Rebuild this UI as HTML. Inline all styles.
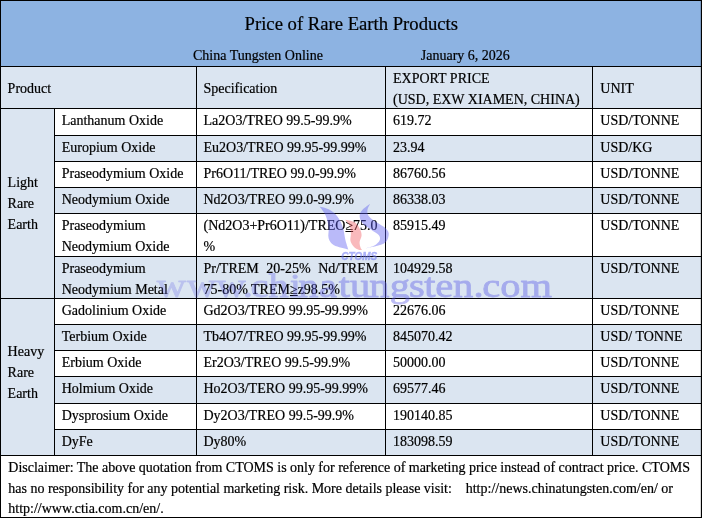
<!DOCTYPE html>
<html><head><meta charset="utf-8"><title>Price of Rare Earth Products</title>
<style>
html,body{margin:0;padding:0;background:#fff}
#c{position:relative;width:702px;height:518px;overflow:hidden;font-family:"Liberation Serif","Times New Roman",serif;color:#000;font-size:14px;line-height:20px}
.r{position:absolute}
.t{position:absolute;white-space:pre;-webkit-text-stroke:0.2px #000}
</style></head><body><div id="c">
<div class="r" style="left:0px;top:0px;width:702px;height:67px;background:#8db3e2"></div>
<div class="r" style="left:0px;top:67px;width:702px;height:41px;background:#dbe5f1"></div>
<div class="r" style="left:0px;top:108px;width:55px;height:347px;background:#dbe5f1"></div>
<div class="r" style="left:55px;top:108px;width:647px;height:27px;background:#ffffff"></div>
<div class="r" style="left:55px;top:135px;width:647px;height:26px;background:#dbe5f1"></div>
<div class="r" style="left:55px;top:161px;width:647px;height:26px;background:#ffffff"></div>
<div class="r" style="left:55px;top:187px;width:647px;height:26px;background:#dbe5f1"></div>
<div class="r" style="left:55px;top:213px;width:647px;height:43px;background:#ffffff"></div>
<div class="r" style="left:55px;top:256px;width:647px;height:42px;background:#dbe5f1"></div>
<div class="r" style="left:55px;top:298px;width:647px;height:26px;background:#ffffff"></div>
<div class="r" style="left:55px;top:324px;width:647px;height:26px;background:#dbe5f1"></div>
<div class="r" style="left:55px;top:350px;width:647px;height:26px;background:#ffffff"></div>
<div class="r" style="left:55px;top:376px;width:647px;height:27px;background:#dbe5f1"></div>
<div class="r" style="left:55px;top:403px;width:647px;height:26px;background:#ffffff"></div>
<div class="r" style="left:55px;top:429px;width:647px;height:26px;background:#dbe5f1"></div>
<div class="r" style="left:0px;top:455px;width:702px;height:63px;background:#ffffff"></div>
<div class="r" style="left:0px;top:0px;width:702px;height:1px;background:#000000"></div>
<div class="r" style="left:0px;top:66px;width:702px;height:1px;background:#000000"></div>
<div class="r" style="left:0px;top:108px;width:702px;height:1px;background:#000000"></div>
<div class="r" style="left:54px;top:135px;width:648px;height:1px;background:#000000"></div>
<div class="r" style="left:54px;top:161px;width:648px;height:1px;background:#000000"></div>
<div class="r" style="left:54px;top:187px;width:648px;height:1px;background:#000000"></div>
<div class="r" style="left:54px;top:213px;width:648px;height:1px;background:#000000"></div>
<div class="r" style="left:54px;top:256px;width:648px;height:1px;background:#000000"></div>
<div class="r" style="left:0px;top:298px;width:702px;height:1px;background:#000000"></div>
<div class="r" style="left:54px;top:324px;width:648px;height:1px;background:#000000"></div>
<div class="r" style="left:54px;top:350px;width:648px;height:1px;background:#000000"></div>
<div class="r" style="left:54px;top:376px;width:648px;height:1px;background:#000000"></div>
<div class="r" style="left:54px;top:403px;width:648px;height:1px;background:#000000"></div>
<div class="r" style="left:54px;top:429px;width:648px;height:1px;background:#000000"></div>
<div class="r" style="left:0px;top:455px;width:702px;height:1px;background:#000000"></div>
<div class="r" style="left:0px;top:517px;width:702px;height:1px;background:#000000"></div>
<div class="r" style="left:0px;top:0px;width:1px;height:518px;background:#000000"></div>
<div class="r" style="left:701px;top:0px;width:1px;height:518px;background:#000000"></div>
<div class="r" style="left:700px;top:0px;width:1px;height:518px;background:rgba(0,0,0,0.15)"></div>
<div class="r" style="left:54px;top:108px;width:1px;height:347px;background:#000000"></div>
<div class="r" style="left:196px;top:66px;width:1px;height:390px;background:#000000"></div>
<div class="r" style="left:385px;top:66px;width:1px;height:390px;background:#000000"></div>
<div class="r" style="left:592px;top:66px;width:1px;height:390px;background:#000000"></div>
<div class="t" style="left:244.6px;top:10px;font-size:18.67px;line-height:28px;">Price of Rare Earth Products</div>
<div class="t" style="left:193px;top:46px;">China Tungsten Online</div>
<div class="t" style="left:420.8px;top:46px;">January 6, 2026</div>
<div class="t" style="left:7.6px;top:79px;">Product</div>
<div class="t" style="left:203.5px;top:79px;">Specification</div>
<div class="t" style="left:393px;top:69px;">EXPORT PRICE</div>
<div class="t" style="left:393px;top:90px;">(USD, EXW XIAMEN, CHINA)</div>
<div class="t" style="left:600.3px;top:79px;">UNIT</div>
<div class="t" style="left:7.6px;top:173px;">Light</div>
<div class="t" style="left:7.6px;top:194px;">Rare</div>
<div class="t" style="left:7.6px;top:215px;">Earth</div>
<div class="t" style="left:7.6px;top:342px;">Heavy</div>
<div class="t" style="left:7.6px;top:363px;">Rare</div>
<div class="t" style="left:7.6px;top:384px;">Earth</div>
<div class="t" style="left:61.7px;top:111px;">Lanthanum Oxide</div>
<div class="t" style="left:203.5px;top:111px;">La2O3/TREO 99.5-99.9%</div>
<div class="t" style="left:393px;top:111px;">619.72</div>
<div class="t" style="left:600.3px;top:111px;">USD/TONNE</div>
<div class="t" style="left:61.7px;top:138px;">Europium Oxide</div>
<div class="t" style="left:203.5px;top:138px;">Eu2O3/TREO 99.95-99.99%</div>
<div class="t" style="left:393px;top:138px;">23.94</div>
<div class="t" style="left:600.3px;top:138px;">USD/KG</div>
<div class="t" style="left:61.7px;top:164px;">Praseodymium Oxide</div>
<div class="t" style="left:203.5px;top:164px;">Pr6O11/TREO 99.0-99.9%</div>
<div class="t" style="left:393px;top:164px;">86760.56</div>
<div class="t" style="left:600.3px;top:164px;">USD/TONNE</div>
<div class="t" style="left:61.7px;top:190px;">Neodymium Oxide</div>
<div class="t" style="left:203.5px;top:190px;">Nd2O3/TREO 99.0-99.9%</div>
<div class="t" style="left:393px;top:190px;">86338.03</div>
<div class="t" style="left:600.3px;top:190px;">USD/TONNE</div>
<div class="t" style="left:61.7px;top:216px;">Praseodymium</div>
<div class="t" style="left:203.5px;top:216px;">(Nd2O3+Pr6O11)/TREO<u>≥</u>75.0</div>
<div class="t" style="left:393px;top:216px;">85915.49</div>
<div class="t" style="left:600.3px;top:216px;">USD/TONNE</div>
<div class="t" style="left:61.7px;top:259px;">Praseodymium</div>
<div class="t" style="left:203.5px;top:259px;"><span style="word-spacing:0.3px">Pr/TREM&nbsp; 20-25%&nbsp; Nd/TREM</span></div>
<div class="t" style="left:393px;top:259px;">104929.58</div>
<div class="t" style="left:600.3px;top:259px;">USD/TONNE</div>
<div class="t" style="left:61.7px;top:301px;">Gadolinium Oxide</div>
<div class="t" style="left:203.5px;top:301px;">Gd2O3/TREO 99.95-99.99%</div>
<div class="t" style="left:393px;top:301px;">22676.06</div>
<div class="t" style="left:600.3px;top:301px;">USD/TONNE</div>
<div class="t" style="left:61.7px;top:327px;">Terbium Oxide</div>
<div class="t" style="left:203.5px;top:327px;">Tb4O7/TREO 99.95-99.99%</div>
<div class="t" style="left:393px;top:327px;">845070.42</div>
<div class="t" style="left:600.3px;top:327px;">USD/ TONNE</div>
<div class="t" style="left:61.7px;top:353px;">Erbium Oxide</div>
<div class="t" style="left:203.5px;top:353px;">Er2O3/TREO 99.5-99.9%</div>
<div class="t" style="left:393px;top:353px;">50000.00</div>
<div class="t" style="left:600.3px;top:353px;">USD/TONNE</div>
<div class="t" style="left:61.7px;top:379px;">Holmium Oxide</div>
<div class="t" style="left:203.5px;top:379px;">Ho2O3/TERO 99.95-99.99%</div>
<div class="t" style="left:393px;top:379px;">69577.46</div>
<div class="t" style="left:600.3px;top:379px;">USD/TONNE</div>
<div class="t" style="left:61.7px;top:406px;">Dysprosium Oxide</div>
<div class="t" style="left:203.5px;top:406px;">Dy2O3/TREO 99.5-99.9%</div>
<div class="t" style="left:393px;top:406px;">190140.85</div>
<div class="t" style="left:600.3px;top:406px;">USD/TONNE</div>
<div class="t" style="left:61.7px;top:432px;">DyFe</div>
<div class="t" style="left:203.5px;top:432px;">Dy80%</div>
<div class="t" style="left:393px;top:432px;">183098.59</div>
<div class="t" style="left:600.3px;top:432px;">USD/TONNE</div>
<div class="t" style="left:61.7px;top:237px;">Neodymium Oxide</div>
<div class="t" style="left:203.5px;top:237px;">%</div>
<div class="t" style="left:61.7px;top:280px;">Neodymium Metal</div>
<div class="t" style="left:203.5px;top:280px;">75-80% TREM<u>≥</u>z98.5%</div>
<div class="t" style="left:8.3px;top:458px;word-spacing:-0.06px">Disclaimer: The above quotation from CTOMS is only for reference of marketing price instead of contract price. CTOMS</div>
<div class="t" style="left:8.3px;top:479px;word-spacing:-0.04px">has no responsibility for any potential marketing risk. More details please visit:&nbsp;&nbsp;&nbsp; http://news.chinatungsten.com/en/ or</div>
<div class="t" style="left:8.3px;top:499px;">http://www.ctia.com.cn/en/.</div>
<svg class="r" style="left:0;top:0" width="702" height="518" viewBox="0 0 702 518"><path d="M319.6 206.6C321.2 207.1 326.2 207.9 329.2 209.6C332.2 211.3 335.3 213.8 337.6 216.8C339.9 219.8 341.6 223.7 342.9 227.5C344.2 231.3 344.4 235.8 345.3 239.5C346.2 243.2 347.8 247.8 348.3 249.4C345.9 248.7 337.3 247.1 334.0 245.2C330.7 243.3 329.5 241.1 328.6 238.2C327.7 235.2 329.1 231.3 328.6 227.5C328.1 223.7 327.1 219.1 325.6 215.6C324.1 212.1 320.6 208.1 319.6 206.6Z" fill="#5a5af0" fill-opacity="0.42"/><path d="M370.2 203.7C369.8 204.7 367.8 207.6 367.5 209.6C367.2 211.6 367.1 213.8 368.6 215.9C370.1 218.0 373.6 220.2 376.5 222.3C379.4 224.4 384.1 226.6 386.1 228.7C388.1 230.8 389.1 232.5 388.7 235.0C388.3 237.5 387.8 241.3 384.0 243.5C380.2 245.7 368.9 247.5 365.9 248.3C367.3 247.9 372.1 246.9 374.4 245.6C376.7 244.3 379.0 242.1 379.7 240.3C380.4 238.5 380.1 236.8 378.7 235.0C377.3 233.2 373.9 231.6 371.2 229.7C368.5 227.8 364.6 225.7 362.7 223.4C360.8 221.1 359.6 218.2 359.6 215.9C359.6 213.6 360.9 211.6 362.7 209.6C364.5 207.6 368.9 204.7 370.2 203.7Z" fill="#5a5af0" fill-opacity="0.42"/><path d="M345.1 219.7C346.6 220.1 351.9 220.6 354.3 222.1C356.7 223.6 358.4 226.2 359.6 228.4C360.8 230.6 361.6 232.9 361.6 235.2C361.6 237.5 359.8 239.9 359.6 242.0C359.4 244.1 360.2 246.4 360.6 247.7C361.0 249.0 361.9 249.4 362.1 249.7C361.6 249.7 360.5 250.3 359.2 249.9C357.9 249.5 355.8 248.8 354.3 247.3C352.9 245.8 351.1 243.3 350.5 241.0C349.9 238.7 351.1 235.9 350.9 233.3C350.7 230.7 350.5 227.8 349.5 225.5C348.5 223.2 345.8 220.7 345.1 219.7Z" fill="#f04650" fill-opacity="0.38"/><defs><linearGradient id="wg" gradientUnits="userSpaceOnUse" x1="156" y1="0" x2="551" y2="0"><stop offset="0" stop-color="#fff" stop-opacity="0.24"/><stop offset="0.25" stop-color="#fff" stop-opacity="0.3"/><stop offset="0.5" stop-color="#fff" stop-opacity="0.41"/><stop offset="1" stop-color="#fff" stop-opacity="0.42"/></linearGradient><mask id="wmk" maskUnits="userSpaceOnUse" x="0" y="0" width="702" height="518"><rect x="140" y="260" width="430" height="50" fill="url(#wg)"/></mask></defs><g mask="url(#wmk)"><text transform="translate(0 296.7) scale(1.19 1)" x="131.79 157.09 181.88 204.04 210.54 225.61 243.47 250.63 268.12 284.77 294.08 310.21 327.51 343.71 356.61 365.71 380.63 397.82 405.24 420.37 437.42" y="0" font-family="Liberation Serif, Times New Roman, serif" font-size="34" fill="#5a5ae6" stroke="#5a5ae6" stroke-width="0.8" stroke-linejoin="round">www.chinatungsten.com</text></g><text x="341.3" y="260.3" stroke="#6e78f5" stroke-opacity="0.5" stroke-width="0.35" font-family="Liberation Sans, Arial, sans-serif" font-weight="bold" font-style="italic" font-size="10" fill="#6e78f5" fill-opacity="0.5">CTOMS</text></svg>
</div></body></html>
